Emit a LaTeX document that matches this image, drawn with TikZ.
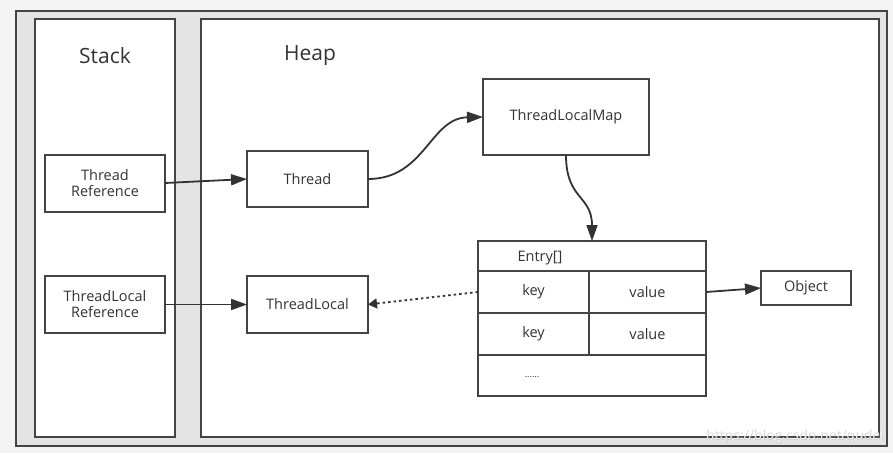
\documentclass[tikz,border=0pt]{standalone}
\usepackage{fontspec}
\setmainfont{Open Sans}
\usetikzlibrary{arrows.meta}
\definecolor{ink}{HTML}{333333}
\definecolor{bord}{HTML}{444444}
\definecolor{panel}{HTML}{E4E4E4}
\definecolor{bg}{HTML}{F4F4F4}
\begin{document}
\begin{tikzpicture}[x=1pt,y=-1pt,
  box/.style={draw=bord,line width=1.8pt,fill=white,inner sep=0pt,outer sep=0pt,text=ink,font=\fontsize{14.5}{17}\selectfont,align=center},
  conn/.style={draw=ink,line width=1.8pt,-{Triangle[length=16pt,width=11pt]}},
  dotconn/.style={draw=ink,line width=1.8pt,dash pattern=on 2.5pt off 3pt,-{Triangle[length=9pt,width=10pt]}}]
\useasboundingbox (0,0) rectangle (893,453);
\fill[bg] (0,0) rectangle (893,453);
% outer panel
\node[draw=bord,line width=2pt,fill=panel,inner sep=0pt,minimum width=871pt,minimum height=435pt] (outer) at (451.5,228.5) {};
% stack & heap
\node[box,minimum width=140pt,minimum height=418pt] (stack) at (105,228) {};
\node[box,minimum width=678pt,minimum height=418pt] (heap) at (540,228) {};
\node[text=ink,font=\fontsize{21}{24}\selectfont] (stacklbl) at (105,56) {Stack};
\node[text=ink,font=\fontsize{21}{24}\selectfont] (heaplbl) at (310,56) {Heap};
% stack nodes
\node[box,minimum width=120pt,minimum height=57pt] (tref) at (105,183.5) {Thread\\[-1pt]Reference};
\node[box,minimum width=120pt,minimum height=57pt] (tlref) at (105,304.5) {ThreadLocal\\[-1pt]Reference};
% heap nodes
\node[box,minimum width=121pt,minimum height=56pt] (thread) at (307.5,179) {Thread};
\node[box,minimum width=121pt,minimum height=57pt] (tl) at (307.5,304.5) {ThreadLocal};
\node[box,minimum width=166pt,minimum height=76pt] (tlm) at (566,117) {ThreadLocalMap};
\node[box,minimum width=90pt,minimum height=34pt] (obj) at (806,288) {Object};
% entry table
\node[box,minimum width=228pt,minimum height=30pt] (hdr) at (592,256) {};
\node[text=ink,font=\fontsize{14.5}{17}\selectfont] (hdrtxt) at (540,258) {Entry[]};
\node[box,minimum width=111pt,minimum height=42pt] (key1) at (533.5,292) {key};
\node[box,minimum width=117pt,minimum height=42pt] (val1) at (647.5,292) {value};
\node[box,minimum width=111pt,minimum height=42pt] (key2) at (533.5,334) {key};
\node[box,minimum width=117pt,minimum height=42pt] (val2) at (647.5,334) {value};
\node[box,minimum width=228pt,minimum height=41pt] (more) at (592,375.5) {};
\node[text=ink,font=\fontsize{9}{10}\selectfont] (dots) at (532,377) {......};
% connectors
\coordinate (a1) at ([yshift=0.5pt]tref.east);
\draw[conn] (a1) -- (thread.west);
\draw[conn] (tlref.east) -- (tl.west);
\draw[conn] (thread.east) .. controls (425,179) and (430,118) .. (tlm.west);
\draw[conn] (tlm.south) .. controls (566,200) and (592,195) .. (hdr.north);
\draw[dotconn] (key1.west) -- (tl.east);
\draw[conn] (val1.east) -- (obj.west);
% watermark
\node[text=white,font=\fontsize{14}{16}\selectfont,anchor=east] (wm) at (887,436) {https://blog.csdn.net/qudei};
\node[text=gray!55,font=\fontsize{14}{16}\selectfont,anchor=east,opacity=0.5] (wm2) at (887.6,436.6) {https://blog.csdn.net/qudei};
\end{tikzpicture}
\end{document}
